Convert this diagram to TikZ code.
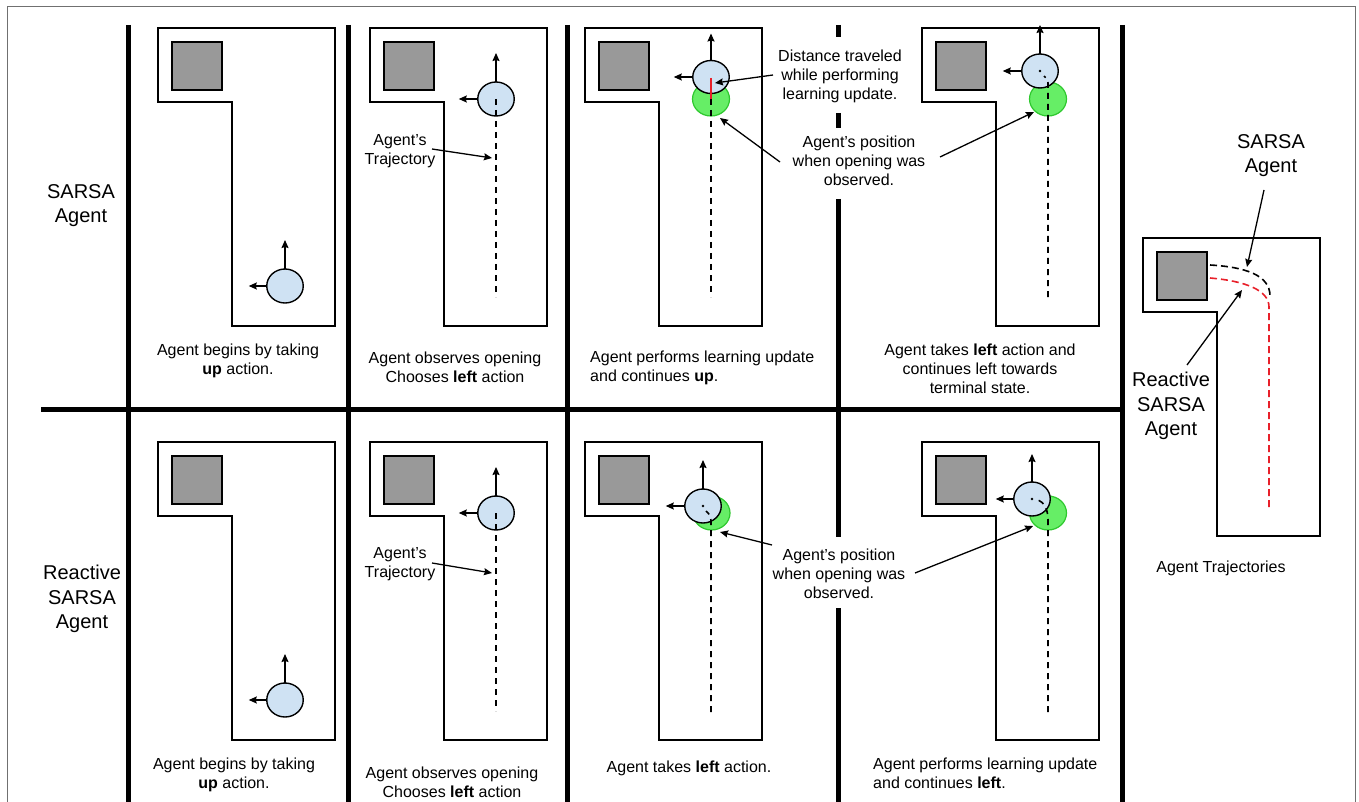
\documentclass[tikz,border=0pt]{standalone}
\usepackage{fontspec}
\setmainfont{Liberation Sans}
\usetikzlibrary{arrows.meta,shapes.geometric}
\definecolor{agentblue}{HTML}{CFE2F3}
\definecolor{wallgray}{HTML}{999999}
\definecolor{seengreen}{HTML}{66EE66}
\definecolor{seengreenline}{HTML}{2EC82E}
\definecolor{framegray}{HTML}{707070}
\definecolor{stepred}{HTML}{E8202A}
\tikzset{
 sepline/.style={line width=5pt},
 maproom/.style={draw, line width=1.5pt, line join=miter},
 block/.style={draw, fill=wallgray, line width=1.5pt},
 agentnode/.style={ellipse, draw, fill=agentblue, line width=1.4pt, minimum width=36.5pt, minimum height=34pt, inner sep=0pt, outer sep=0pt},
 seennode/.style={ellipse, draw=seengreenline, fill=seengreen, line width=1.2pt, minimum width=37pt, minimum height=34pt, inner sep=0pt, outer sep=0pt},
 act/.style={-{Stealth[length=8pt,width=7pt,inset=1pt]}, line width=1.3pt},
 traj/.style={dash pattern=on 6pt off 5pt, line width=1.6pt},
 rtraj/.style={dash pattern=on 7pt off 4pt, line width=1.6pt},
 note/.style={font=\fontsize{16}{19}\selectfont, align=center, inner sep=0pt},
 side/.style={font=\fontsize{20}{24.5}\selectfont, align=center, inner sep=0pt},
 pics/room/.style={code={
   \draw[maproom] (0,0) -- (177,0) -- (177,298) -- (74,298) -- (74,74) -- (0,74) -- cycle;
   \draw[block] (14,14) rectangle (64,62);
 }},
}
\begin{document}
\begin{tikzpicture}[x=1pt,y=-1pt]
\useasboundingbox (0,0) rectangle (1359,802);
% outer frame
\draw[framegray, line width=1pt] (7,810) -- (7,7) -- (1355,7) -- (1355,810);
% separators
\draw[sepline] (41,409) -- (1122,409);
\draw[sepline] (128,25) -- (128,805);
\draw[sepline] (348,25) -- (348,805);
\draw[sepline] (567,25) -- (567,805);
\draw[sepline] (838,25) -- (838,37);
\draw[sepline] (838,113) -- (838,128);
\draw[sepline] (838,199) -- (838,537);
\draw[sepline] (838,608) -- (838,805);
\draw[sepline] (1122,25) -- (1122,805);

% side labels
\node[side] (lsarsa) at (81,205.5) {SARSA\\Agent};
\node[side] (lreact) at (82,599) {Reactive\\SARSA\\Agent};

% rooms
\pic at (158,28) {room};
\pic at (370,28) {room};
\pic at (585,28) {room};
\pic at (922,28) {room};
\pic at (158,442) {room};
\pic at (370,442) {room};
\pic at (585,442) {room};
\pic at (922,442) {room};
\pic at (1143,238) {room};

% ---------- top row ----------
% panel 1
\node[agentnode] (b1t) at (285,286) {};
\draw[act] (b1t.north) -- ++(0,-29);
\draw[act] (b1t.west) -- ++(-18,0);
\node[note] (cap1t) at (238,361) {Agent begins by taking\\\textbf{up} action.};
% panel 2
\node[agentnode] (b2t) at (496,99) {};
\draw[act] (b2t.north) -- ++(0,-29);
\draw[act] (b2t.west) -- ++(-19,0);
\coordinate (e2t) at (496,297);
\draw[traj] (b2t.center) -- (e2t);
\node[note] (trajt) at (400,151.5) {Agent’s\\Trajectory};
\coordinate (t2ts) at (432,149);
\coordinate (t2te) at (492,158);
\draw[act] (t2ts) -- (t2te);
\node[note] (cap2t) at (455,367.5) {Agent observes opening\\Chooses \textbf{left} action};
% panel 3
\node[seennode] (g3t) at (711,99) {};
\node[agentnode, minimum height=33pt] (b3t) at (711,77) {};
\draw[act] (b3t.north) -- ++(0,-27);
\draw[act] (b3t.west) -- ++(-19,0);
\draw[stepred, line width=1.6pt] (711,78) -- (g3t.center);
\coordinate (e3t) at (711,297);
\draw[traj] (g3t.center) -- (e3t);
\node[note] (distt) at (840,76) {Distance traveled\\while performing\\learning update.};
\coordinate (d3s) at (773,75);
\coordinate (d3e) at (715,83);
\draw[act] (d3s) -- (d3e);
\node[note] (post) at (859,161) {Agent’s position\\when opening was\\observed.};
\coordinate (p3s) at (780,162);
\coordinate (p3e) at (720,118);
\draw[act] (p3s) -- (p3e);
\coordinate (p4s) at (940,157);
\coordinate (p4e) at (1034,112);
\node[note, anchor=west, align=left] (cap3t) at (590,367.5) {Agent performs learning update\\and continues \textbf{up}.};
% panel 4
\node[seennode] (g4t) at (1048,99) {};
\node[agentnode] (b4t) at (1040,71) {};
\fill (b4t.center) circle (1.3);
\draw[act] (b4t.north) -- ++(0,-29);
\draw[act] (b4t.west) -- ++(-19,0);
\coordinate (e4t) at (1048,297);
\draw[traj] (e4t) -- (1048,86) .. controls (1048,80) .. (1044,76);
\draw[act] (p4s) -- (p4e);
\node[note] (cap4t) at (980,369) {Agent takes \textbf{left} action and\\continues left towards\\terminal state.};

% ---------- bottom row ----------
% panel 1
\node[agentnode] (b1b) at (285,700) {};
\draw[act] (b1b.north) -- ++(0,-29);
\draw[act] (b1b.west) -- ++(-18,0);
\node[note] (cap1b) at (234,774.5) {Agent begins by taking\\\textbf{up} action.};
% panel 2
\node[agentnode] (b2b) at (496,513) {};
\draw[act] (b2b.north) -- ++(0,-29);
\draw[act] (b2b.west) -- ++(-19,0);
\coordinate (e2b) at (496,711);
\draw[traj] (b2b.center) -- (e2b);
\node[note] (trajb) at (400,564.5) {Agent’s\\Trajectory};
\coordinate (t2bs) at (432,563);
\coordinate (t2be) at (492,573);
\draw[act] (t2bs) -- (t2be);
\node[note] (cap2b) at (452,782) {Agent observes opening\\Chooses \textbf{left} action};
% panel 3
\node[seennode] (g3b) at (711.5,513) {};
\node[agentnode] (b3b) at (703,506) {};
\fill (b3b.center) circle (1.3);
\draw[act] (b3b.north) -- ++(0,-29);
\draw[act] (b3b.west) -- ++(-19,0);
\coordinate (e3b) at (711,712);
\draw[traj] (e3b) -- (711,526) .. controls (711,516) .. (706,511);
\node[note] (posb) at (839,573.5) {Agent’s position\\when opening was\\observed.};
\coordinate (p3bs) at (772,545);
\coordinate (p3be) at (720,532);
\draw[act] (p3bs) -- (p3be);
\coordinate (p4bs) at (915,573);
\coordinate (p4be) at (1033,526);
\node[note] (cap3b) at (689,768) {Agent takes \textbf{left} action.};
% panel 4
\node[seennode] (g4b) at (1048,513) {};
\node[agentnode] (b4b) at (1032,499) {};
\fill (b4b.center) circle (1.3);
\draw[act] (b4b.north) -- ++(0,-28);
\draw[act] (b4b.west) -- ++(-18,0);
\coordinate (e4b) at (1048,712);
\draw[traj] (e4b) -- (1048,520) .. controls (1048,505) and (1041,500) .. (1034,499);
\draw[act] (p4bs) -- (p4be);
\node[note, anchor=west, align=left] (cap4b) at (873,773) {Agent performs learning update\\and continues \textbf{left}.};

% ---------- right panel ----------
\coordinate (ks) at (1210,265);
\coordinate (ke) at (1270,296);
\draw[rtraj] (ks) .. controls (1245,267) and (1270,275) .. (ke);
\coordinate (rs) at (1210,278);
\coordinate (re) at (1269,507);
\draw[rtraj, stepred] (rs) .. controls (1245,281) and (1269,290) .. (1269,307) -- (re);
\node[side] (rsarsa) at (1271,155.5) {SARSA\\Agent};
\coordinate (rsa) at (1264,190);
\coordinate (rsb) at (1247,267);
\draw[act] (rsa) -- (rsb);
\node[side] (rreact) at (1171,406) {Reactive\\SARSA\\Agent};
\coordinate (rra) at (1187,365);
\coordinate (rrb) at (1242,290);
\draw[act] (rra) -- (rrb);
\node[note] (rcap) at (1221,568) {Agent Trajectories};
\end{tikzpicture}
\end{document}
